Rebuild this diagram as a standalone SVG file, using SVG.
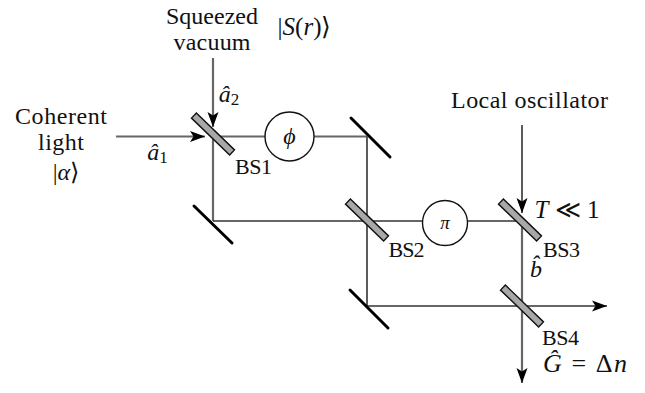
<svg xmlns="http://www.w3.org/2000/svg" width="645" height="393" viewBox="0 0 645 393">
<style>
text{font-family:"Liberation Serif","Times New Roman",serif;font-size:24px;fill:#111;text-anchor:middle}
.i{font-style:italic}
.s{font-size:17px}
.b{font-size:22px}
.l{fill:none;stroke:#333;stroke-width:1.6}
.g{fill:none;stroke:#666;stroke-width:2.2}
.bs{fill:#a8a8a8;stroke:#111;stroke-width:1.4}
.m{stroke:#000;stroke-width:3;stroke-linecap:round}
.c{fill:#fff;stroke:#111;stroke-width:1.4}
</style>
<defs>
<marker id="a" markerUnits="userSpaceOnUse" markerWidth="16" markerHeight="12" refX="15" refY="6" orient="auto"><path d="M0 0.5L15 6L0 11.5L3.5 6Z" fill="#000"/></marker>
</defs>
<rect width="645" height="393" fill="#fff"/>
<g id="connectors">
<path class="g" d="M116 136.500H205" marker-end="url(#a)"/>
<path class="g" d="M213 58V127" marker-end="url(#a)"/>
<path class="g" d="M213 136.500H367"/>
<path class="g" d="M213 136.500V221"/>
<path class="l" d="M213 221H522"/>
<path class="l" d="M367 136.500V306"/>
<path class="l" d="M367 306H607" marker-end="url(#a)"/>
<path class="l" d="M522 125V213" marker-end="url(#a)"/>
<path class="g" d="M522 221V383" marker-end="url(#a)"/>
</g>
<g id="bs1"><rect class="bs" x="186.500" y="130.500" width="53" height="7" transform="rotate(44 213 134)"/><text x="253.500" y="174" class="b" textLength="37">BS1</text></g>
<g id="phi"><circle class="c" cx="289.500" cy="136.500" r="24.500"/><text x="289.500" y="144" class="i">ϕ</text></g>
<g id="mirror1"><line class="m" x1="194" y1="206" x2="232" y2="243"/></g>
<g id="mirror2"><line class="m" x1="351" y1="118" x2="390" y2="157"/></g>
<g id="mirror3"><line class="m" x1="350" y1="290" x2="388" y2="328"/></g>
<g id="bs2"><rect class="bs" x="340.500" y="216.500" width="53" height="7" transform="rotate(44 367 220)"/><text x="406.500" y="257" class="b" textLength="36">BS2</text></g>
<g id="pi"><circle class="c" cx="445" cy="223" r="22.500"/><text x="445" y="229" class="i" style="font-size:19px">π</text></g>
<g id="bs3"><rect class="bs" x="493.500" y="216.500" width="53" height="7" transform="rotate(44 520 220)"/><text x="561.500" y="257" class="b" textLength="37">BS3</text></g>
<g id="bs4"><rect class="bs" x="495.500" y="302.500" width="53" height="7" transform="rotate(44 522 306)"/><text x="560.500" y="345" class="b" textLength="37">BS4</text></g>
<g id="labels">
<text x="212" y="24" textLength="92">Squeezed</text>
<text x="212" y="50" textLength="77">vacuum</text>
<text x="304.500" y="35" style="font-size:25px"><tspan>|</tspan><tspan class="i">S</tspan><tspan>(</tspan><tspan class="i">r</tspan><tspan>)⟩</tspan></text>
<text x="61" y="124" textLength="92">Coherent</text>
<text x="61" y="150" textLength="46">light</text>
<text x="66" y="180"><tspan>|</tspan><tspan class="i">α</tspan><tspan>⟩</tspan></text>
<text x="229" y="102"><tspan class="i">â</tspan><tspan class="s" dy="3">2</tspan></text>
<text x="157.500" y="160"><tspan class="i">â</tspan><tspan class="s" dy="3">1</tspan></text>
<text x="529.500" y="108" textLength="157">Local oscillator</text>
<text x="567" y="218" style="font-size:25px"><tspan class="i">T</tspan><tspan> ≪ 1</tspan></text>
<text x="536" y="277" class="i">b̂</text>
<text x="585" y="372" style="font-size:26px" textLength="84"><tspan class="i">Ĝ</tspan><tspan> = Δ</tspan><tspan class="i">n</tspan></text>
</g>
</svg>
